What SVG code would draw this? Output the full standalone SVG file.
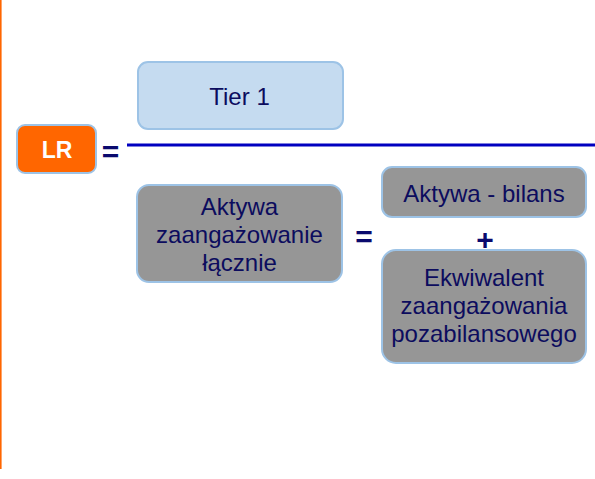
<svg xmlns="http://www.w3.org/2000/svg" width="595" height="479" viewBox="0 0 595 479">
<style>
.box{stroke:#9DC3E6;stroke-width:2}
.t{font-family:"Liberation Sans",Arial,sans-serif;font-size:24px;fill:#0C0C5E;text-anchor:middle}
.op{font-family:"Liberation Sans",Arial,sans-serif;font-size:30px;font-weight:bold;fill:#0A0A6E;text-anchor:middle}
</style>
<rect x="0" y="0" width="595" height="479" fill="#ffffff"/>
<line x1="0.8" y1="0" x2="0.8" y2="469" stroke="#FF6600" stroke-width="1.6"/>
<g id="connectors">
<line x1="127" y1="145" x2="595" y2="145" stroke="#0000C0" stroke-width="3"/>
</g>
<g id="lr">
<rect class="box" x="17" y="125" width="79" height="48" rx="8" fill="#FF6600"/>
<text x="57" y="158" font-family="Liberation Sans,Arial,sans-serif" font-size="23" font-weight="bold" fill="#ffffff" text-anchor="middle">LR</text>
</g>
<g id="eq1"><text class="op" x="110.5" y="162">=</text></g>
<g id="tier1">
<rect class="box" x="138" y="62" width="205" height="67" rx="10" fill="#C5DBF0"/>
<text class="t" x="239.5" y="105">Tier 1</text>
</g>
<g id="aktywa">
<rect class="box" x="137" y="185" width="205" height="97" rx="12" fill="#969696"/>
<text class="t" x="239.5" y="215">Aktywa</text>
<text class="t" x="239.5" y="243">zaangażowanie</text>
<text class="t" x="239.5" y="271">łącznie</text>
</g>
<g id="eq2"><text class="op" x="364" y="247">=</text></g>
<g id="bilans">
<rect class="box" x="382" y="167" width="204" height="50" rx="10" fill="#969696"/>
<text class="t" x="484" y="202">Aktywa - bilans</text>
</g>
<g id="plus"><text class="op" x="485" y="250">+</text></g>
<g id="ekwiwalent">
<rect class="box" x="382" y="250" width="204" height="113" rx="14" fill="#969696"/>
<text class="t" x="484" y="286">Ekwiwalent</text>
<text class="t" x="484" y="314">zaangażowania</text>
<text class="t" x="484" y="342">pozabilansowego</text>
</g>
</svg>
